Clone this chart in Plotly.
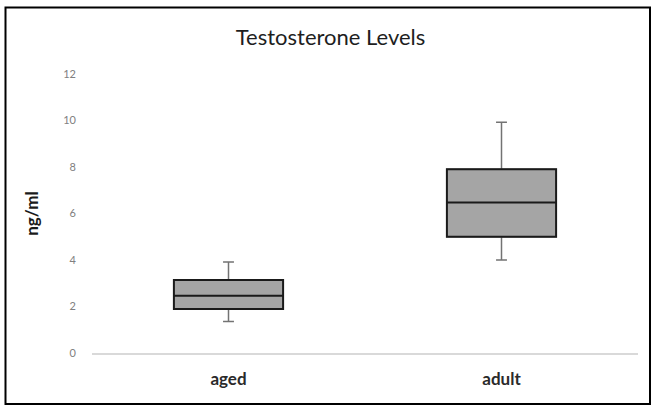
import plotly.graph_objects as go

categories = ["aged", "adult"]
minimum = [1.36, 4.0]
q1 = [1.89, 5.0]
median = [2.46, 6.47]
q3 = [3.14, 7.9]
maximum = [3.91, 9.92]
y_ticks = [0, 2, 4, 6, 8, 10, 12]

fig = go.Figure()
# whiskers (gray)
fig.add_trace(go.Box(
    x=categories, q1=q1, median=median, q3=q3,
    lowerfence=minimum, upperfence=maximum,
    fillcolor="#a5a5a5", line=dict(color="#737373", width=1.5),
    whiskerwidth=0.1, width=0.4, boxpoints=False, hoverinfo="skip",
    showlegend=False,
))
# box body (black outline)
fig.add_trace(go.Box(
    x=categories, q1=q1, median=median, q3=q3,
    lowerfence=q1, upperfence=q3,
    fillcolor="#a5a5a5", line=dict(color="#1a1a1a", width=2),
    whiskerwidth=0, width=0.4, boxpoints=False,
    showlegend=False,
))

fig.update_layout(
    width=652, height=406,
    margin=dict(l=92, r=14, t=74, b=53),
    paper_bgcolor="white", plot_bgcolor="white",
    boxmode="overlay",
    title=dict(text="Testosterone Levels", x=0.507, xanchor="center",
               y=0.908, yanchor="middle",
               font=dict(family="Lato", size=22, color="#1e1e1e")),
    xaxis=dict(range=[-0.5, 1.5], showgrid=False, showline=True, linecolor="#d9d9d9", linewidth=1.5,
               ticks="", ticklabelstandoff=10,
               tickfont=dict(family="Lato", size=17, color="#2a2a2a", weight=700),
               zeroline=False),
    yaxis=dict(range=[0, 12], tickvals=y_ticks, showgrid=False, zeroline=False,
               showline=False, ticks="", ticklabelstandoff=15,
               tickfont=dict(family="Lato", size=11, color="#808080"),
               title=dict(text="ng/ml", standoff=20,
                          font=dict(family="Lato", size=17, color="#1a1a1a", weight=700))),
    shapes=[dict(type="rect", xref="paper", yref="paper",
                 x0=(5.5 - 92) / 546, x1=(650 - 92) / 546,
                 y0=(353 - 404) / 279, y1=(353 - 7.5) / 279,
                 line=dict(color="black", width=2), fillcolor="rgba(0,0,0,0)", layer="below")],
)

fig.write_html("out.html", config={"displayModeBar": False},
               post_script="document.body.style.margin='0';")
